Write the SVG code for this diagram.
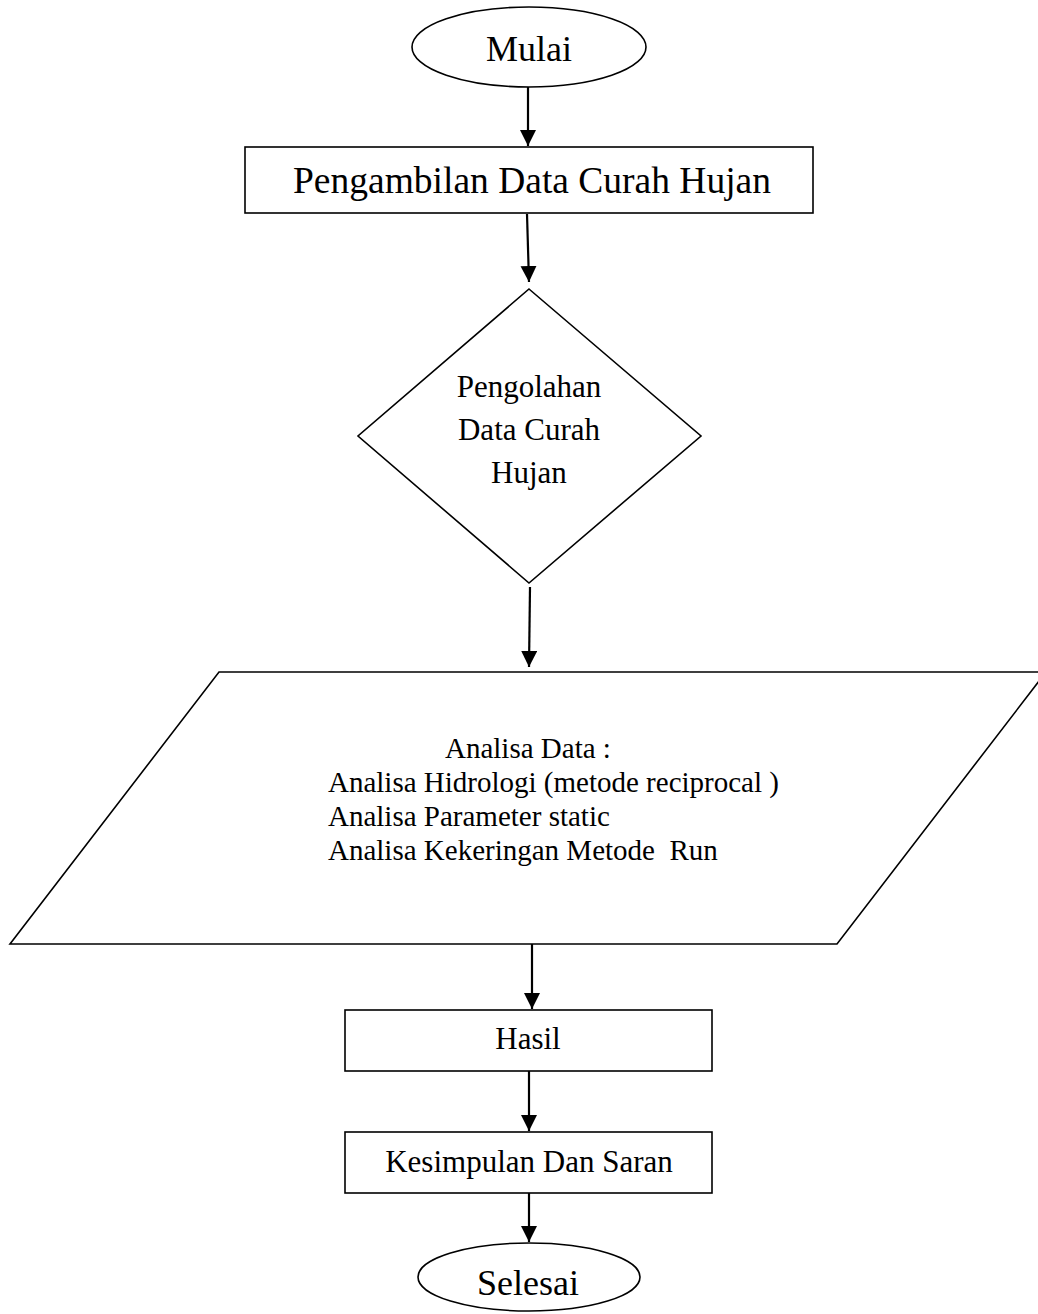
<svg xmlns="http://www.w3.org/2000/svg" width="1038" height="1314" viewBox="0 0 1038 1314">
<style>
.shape{fill:#fff;stroke:#000;stroke-width:1.6}
.t{font-family:"Liberation Serif","Times New Roman",serif;fill:#000;white-space:pre}
.c{text-anchor:middle}
.conn{stroke:#000;stroke-width:2.2;fill:none}
</style>
<defs>
<marker id="ah" markerUnits="userSpaceOnUse" markerWidth="17" markerHeight="17" refX="16" refY="8" orient="auto">
<path d="M0,0 L16,8 L0,16 z" fill="#000"/>
</marker>
</defs>
<rect width="1038" height="1314" fill="#fff"/>
<g id="connectors">
<line class="conn" x1="528" y1="87" x2="528" y2="146" marker-end="url(#ah)"/>
<line class="conn" x1="527" y1="214" x2="529" y2="282" marker-end="url(#ah)"/>
<line class="conn" x1="530" y1="587" x2="529" y2="667" marker-end="url(#ah)"/>
<line class="conn" x1="532" y1="940" x2="532" y2="1009" marker-end="url(#ah)"/>
<line class="conn" x1="529" y1="1071" x2="529" y2="1131" marker-end="url(#ah)"/>
<line class="conn" x1="529" y1="1193" x2="529" y2="1242" marker-end="url(#ah)"/>
</g>
<g id="mulai">
<ellipse class="shape" cx="529" cy="47" rx="117" ry="40"/>
<text class="t c" x="529" y="61" font-size="36">Mulai</text>
</g>
<g id="pengambilan">
<rect class="shape" x="245" y="147" width="568" height="66"/>
<text class="t c" x="532" y="193" font-size="37.5">Pengambilan Data Curah Hujan</text>
</g>
<g id="pengolahan">
<polygon class="shape" points="529,289 701,436 529,583 358,436"/>
<text class="t c" x="529" y="397" font-size="31">Pengolahan</text>
<text class="t c" x="529" y="440" font-size="31">Data Curah</text>
<text class="t c" x="529" y="483" font-size="31">Hujan</text>
</g>
<g id="analisa">
<polygon class="shape" points="219,672 1046,672 837,944 10,944"/>
<text class="t" x="445" y="758" font-size="29">Analisa Data :</text>
<text class="t" x="328" y="792" font-size="29">Analisa Hidrologi (metode reciprocal )</text>
<text class="t" x="328" y="826" font-size="29">Analisa Parameter static</text>
<text class="t" x="328" y="860" font-size="29" xml:space="preserve">Analisa Kekeringan Metode  Run</text>
</g>
<g id="hasil">
<rect class="shape" x="345" y="1010" width="367" height="61"/>
<text class="t c" x="528" y="1049" font-size="31">Hasil</text>
</g>
<g id="kesimpulan">
<rect class="shape" x="345" y="1132" width="367" height="61"/>
<text class="t c" x="529" y="1172" font-size="31">Kesimpulan Dan Saran</text>
</g>
<g id="selesai">
<ellipse class="shape" cx="529" cy="1277" rx="111" ry="34"/>
<text class="t c" x="528" y="1295" font-size="36">Selesai</text>
</g>
</svg>
